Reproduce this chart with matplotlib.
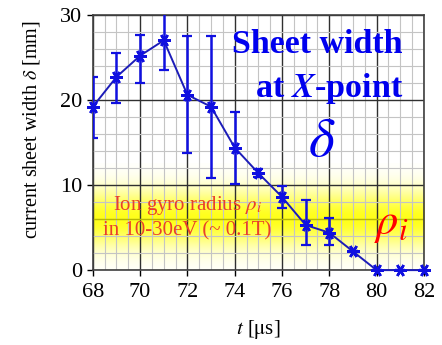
import matplotlib
matplotlib.use("Agg")
import matplotlib.pyplot as plt
import numpy as np
from matplotlib.ticker import MultipleLocator

# measured sheet width at the X-point
t_us = [68, 69, 70, 71, 72, 73, 74, 75, 76, 77, 78, 79, 80, 81, 82]
delta_mm = [19.2, 22.7, 25.2, 27.0, 20.6, 19.2, 14.4, 11.4, 8.6, 5.3, 4.4, 2.2, 0, 0, 0]
err_low = [15.5, 19.6, 22.0, 23.5, 13.8, 10.8, 10.1, 11.0, 7.3, 2.9, 2.9, 2.2, 0, 0, 0]
err_high = [22.7, 25.5, 27.6, 31.0, 27.5, 27.5, 18.6, 11.9, 9.9, 8.2, 6.1, 2.2, 0, 0, 0]

# ion gyro radius band
rho_center = 6.0
rho_half = 6.5

plt.rcParams['font.family'] = ['Liberation Serif', 'DejaVu Serif']
plt.rcParams['mathtext.fontset'] = 'stix'

fig = plt.figure(figsize=(4.42, 3.45), dpi=100)
ax = fig.add_axes([0.210, 0.217, 0.749, 0.740])

# yellow gradient band
prof = np.linspace(-1, 1, 200)
alpha = np.exp(-(prof / 0.5) ** 2) * 0.9
band = np.zeros((200, 2, 4))
band[:, :, 0] = 1.0
band[:, :, 1] = 1.0
band[:, :, 3] = alpha[:, None]
ax.imshow(band, extent=[68, 82, rho_center - rho_half, rho_center + rho_half],
          aspect='auto', origin='lower', zorder=0.5, interpolation='bilinear')
ax.axhline(rho_center, color='#b8b800', lw=1.0, zorder=1)

ax.set_xlim(68, 82)
ax.set_ylim(0, 30)
ax.xaxis.set_major_locator(MultipleLocator(2))
ax.xaxis.set_minor_locator(MultipleLocator(0.5))
ax.yaxis.set_major_locator(MultipleLocator(10))
ax.yaxis.set_minor_locator(MultipleLocator(2))
ax.grid(which='minor', color='#c4c4c4', lw=0.8, zorder=0.8)
ax.grid(which='major', color='#303030', lw=1.0, zorder=0.9)
ax.set_axisbelow(True)
ax.tick_params(which='minor', length=0)
ax.tick_params(which='major', length=4, width=1, labelsize=16, direction='out')
ax.tick_params(axis='x', pad=5)
for s in ax.spines.values():
    s.set_color('#404040')
    s.set_linewidth(1.2)

t = np.array(t_us)
d = np.array(delta_mm)
yerr = [d - np.array(err_low), np.array(err_high) - d]
ax.errorbar(t, d, yerr=yerr, fmt='none', ecolor='#1010e0', elinewidth=1.8,
            capsize=3.5, capthick=1.6, zorder=3)
ax.plot(t, d, color='#1c1cb8', lw=1.4, marker=(6, 2, 90), ms=9, mew=1.8,
        mec='#1010e0', zorder=4, clip_on=False)

ax.set_xlabel(r'$t$ [$\mathrm{\mu}$s]', fontsize=15, labelpad=12)
ax.set_ylabel(r'current sheet width $\delta$ [mm]', fontsize=14.5)
ax.yaxis.set_label_coords(-0.155, 0.55)

ax.text(77.5, 26.5, 'Sheet width', color='#0000ee', fontsize=24.5, fontweight='bold',
        ha='center', va='center', zorder=5)
ax.text(78.0, 21.3, 'at $\\boldsymbol{X}$-point', color='#0000ee', fontsize=24.5,
        fontweight='bold', ha='center', va='center', zorder=5)
ax.text(77.7, 15.0, r'$\delta$', color='#0000ee', fontsize=40, ha='center',
        va='center', zorder=5)
ax.text(80.6, 5.3, r'$\rho_i$', color='#ff0000', fontsize=32, ha='center',
        va='center', zorder=5)
ax.text(72.0, 7.6, r'Ion gyro radius $\rho_i$', color='#e8402a', fontsize=15,
        ha='center', va='center', zorder=5)
ax.text(72.0, 4.6, 'in 10-30eV (~ 0.1T)', color='#e8402a', fontsize=15,
        ha='center', va='center', zorder=5)

fig.savefig('out.png', dpi=100)
